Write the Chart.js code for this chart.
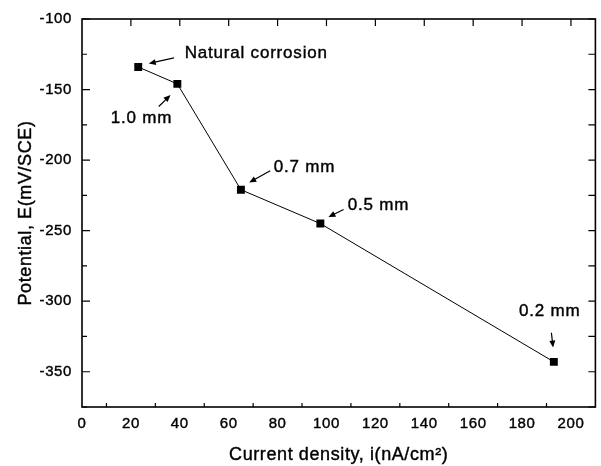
<!DOCTYPE html>
<html>
<head>
<meta charset="utf-8">
<script src="https://cdn.jsdelivr.net/npm/chart.js"></script>
<style>
  html, body { margin: 0; padding: 0; background: #fff; }
  #wrap { width: 601px; height: 466px; }
</style>
</head>
<body>
<div id="wrap"><canvas id="chart" width="601" height="466"></canvas></div>
<script>
// data
const currentDensity = [23, 39, 65, 97.5, 193];        // i, nA/cm2
const potential      = [-134, -146, -221, -245, -343];  // E, mV/SCE

const xTicks = [0, 20, 40, 60, 80, 100, 120, 140, 160, 180, 200];
const yTicks = [-350, -300, -250, -200, -150, -100];

const xTitle = 'Current density, i(nA/cm²)';
const yTitle = 'Potential, E(mV/SCE)';

// annotations (data units)
const noteText  = ['Natural corrosion', '1.0 mm', '0.7 mm', '0.5 mm', '0.2 mm'];
const noteX     = [42, 24.3, 78.4, 108.7, 191.3];
const noteY     = [-124.5, -170.2, -205.3, -232, -307];
const noteAlign = ['left', 'center', 'left', 'left', 'center'];
const arrowFromX = [37.6, 31.4, 77, 107, 192];
const arrowFromY = [-127.6, -162, -207.6, -235, -322.4];
const arrowToX   = [27.3, 36.2, 68.4, 100.8, 192.7];
const arrowToY   = [-131.6, -153.9, -215.9, -240.4, -332.9];

const FONT = '"Liberation Sans", Arial, sans-serif';

const points = currentDensity.map((v, i) => ({ x: v, y: potential[i] }));

function inkText(ctx, t, x, y) {
  ctx.fillText(t, x, y);
  ctx.strokeText(t, x, y);
}

// frame, inward ticks, titles and notes
const frameTicks = {
  id: 'frameTicks',
  beforeDraw(chart) {
    chart.ctx.letterSpacing = '0.6px';
  },
  afterDatasetsDraw(chart) {
    const { ctx, chartArea: a, scales: { x, y } } = chart;
    ctx.save();
    ctx.strokeStyle = '#000';
    ctx.lineWidth = 1.2;
    ctx.beginPath();
    xTicks.forEach(v => {
      if (v === 0) return;
      const px = x.getPixelForValue(v);
      ctx.moveTo(px, a.top); ctx.lineTo(px, a.top + 7);
      const mid = x.getPixelForValue(v - 10);
      ctx.moveTo(mid, a.bottom); ctx.lineTo(mid, a.bottom - 4);
    });
    yTicks.forEach(v => {
      const py = y.getPixelForValue(v);
      const mid = y.getPixelForValue(v - 25);
      ctx.moveTo(a.left, py); ctx.lineTo(a.left + 8, py);
      ctx.moveTo(a.left, mid); ctx.lineTo(a.left + 5, mid);
      ctx.moveTo(a.right, py); ctx.lineTo(a.right - 7, py);
      ctx.moveTo(a.right, mid); ctx.lineTo(a.right - 7, mid);
    });
    ctx.stroke();
    ctx.lineWidth = 1.6;
    ctx.strokeRect(a.left, a.top, a.right - a.left, a.bottom - a.top);

    ctx.fillStyle = '#000';
    ctx.textBaseline = 'middle';

    // axis titles
    ctx.lineWidth = 0.4;
    ctx.font = '18px ' + FONT;
    ctx.letterSpacing = '0.6px';
    ctx.textAlign = 'center';
    inkText(ctx, xTitle, (a.left + a.right) / 2, 455);
    ctx.save();
    ctx.translate(26, (a.top + a.bottom) / 2);
    ctx.rotate(-Math.PI / 2);
    inkText(ctx, yTitle, 0, 0);
    ctx.restore();

    // notes and arrows
    ctx.font = '17px ' + FONT;
    ctx.letterSpacing = '0.8px';
    noteText.forEach((t, i) => {
      ctx.textAlign = noteAlign[i];
      ctx.lineWidth = 0.4;
      inkText(ctx, t, x.getPixelForValue(noteX[i]), y.getPixelForValue(noteY[i]));
      const x0 = x.getPixelForValue(arrowFromX[i]), y0 = y.getPixelForValue(arrowFromY[i]);
      const x1 = x.getPixelForValue(arrowToX[i]),   y1 = y.getPixelForValue(arrowToY[i]);
      const ang = Math.atan2(y1 - y0, x1 - x0);
      ctx.lineWidth = 1.2;
      ctx.beginPath();
      ctx.moveTo(x0, y0);
      ctx.lineTo(x1 - 4 * Math.cos(ang), y1 - 4 * Math.sin(ang));
      ctx.stroke();
      ctx.beginPath();
      ctx.moveTo(x1, y1);
      ctx.lineTo(x1 - 7 * Math.cos(ang) + 3 * Math.sin(ang), y1 - 7 * Math.sin(ang) - 3 * Math.cos(ang));
      ctx.lineTo(x1 - 7 * Math.cos(ang) - 3 * Math.sin(ang), y1 - 7 * Math.sin(ang) + 3 * Math.cos(ang));
      ctx.closePath();
      ctx.fill();
    });
    ctx.restore();
  }
};

const tickStyle = {
  color: '#000',
  font: { family: FONT, size: 15 },
  textStrokeColor: '#000',
  textStrokeWidth: 0.4
};

new Chart(document.getElementById('chart'), {
  type: 'scatter',
  data: {
    datasets: [{
      data: points,
      showLine: true,
      borderColor: '#000',
      borderWidth: 1,
      backgroundColor: '#000',
      pointStyle: 'rect',
      pointRadius: 5.6,
      pointHoverRadius: 5.6,
      pointBorderWidth: 0,
      tension: 0
    }]
  },
  options: {
    responsive: false,
    animation: false,
    events: [],
    layout: { padding: { left: 0, right: 5, top: 15, bottom: 0 } },
    plugins: { legend: { display: false }, tooltip: { enabled: false } },
    scales: {
      x: {
        type: 'linear',
        min: 0, max: 210,
        afterFit: s => { s.height = 59; },
        afterBuildTicks: s => { s.ticks = xTicks.map(v => ({ value: v })); },
        grid: { display: false, drawTicks: false },
        border: { display: false },
        ticks: Object.assign({ padding: 8, maxRotation: 0 }, tickStyle)
      },
      y: {
        type: 'linear',
        min: -375, max: -100,
        afterFit: s => { s.width = 82; },
        afterBuildTicks: s => { s.ticks = yTicks.map(v => ({ value: v })); },
        grid: { display: false, drawTicks: false },
        border: { display: false },
        ticks: Object.assign({ padding: 10 }, tickStyle)
      }
    }
  },
  plugins: [frameTicks]
});
</script>
</body>
</html>
